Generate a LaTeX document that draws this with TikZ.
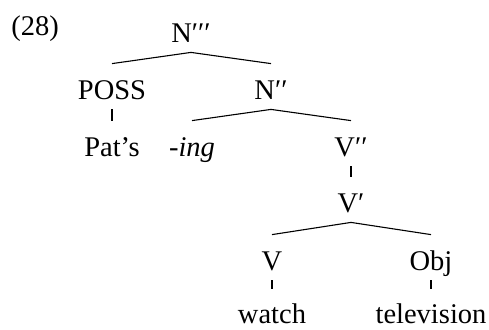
\documentclass[tikz,border=0pt]{standalone}
\usepackage{fontspec}
\setmainfont{Liberation Serif}
\usepackage{tikz}
\tikzset{
  treenode/.style={anchor=base, inner xsep=1pt, inner ysep=1.5pt,
    text height=16pt, text depth=3.5pt, font=\fontsize{14.25}{17}\selectfont},
  leafnode/.style={treenode, text depth=0pt, inner ysep=1pt},
  branch/.style={line width=0.55pt},
  tick/.style={line width=0.75pt}
}

\begin{document}
\begin{tikzpicture}[x=0.5pt, y=-0.5pt]
    \useasboundingbox (0,0) rectangle (489,329);
    \node[treenode, anchor=base west, inner xsep=0pt] (exnum) at (11,35) {(28)};
    \node[treenode] (nbarthree) at (191,42) {N′′′};
    \node[treenode] (poss) at (112,99) {POSS};
    \node[treenode] (nbartwo) at (271,99) {N′′};
    \node[treenode] (pats) at (112,156) {Pat’s};
    \node[treenode] (ing) at (192,156) {\itshape -ing};
    \node[treenode] (vbartwo) at (351,156) {V′′};
    \node[treenode] (vbarone) at (351,212) {V′};
    \node[treenode] (verb) at (272,270) {V};
    \node[treenode] (obj) at (431,270) {Obj};
    \node[leafnode] (watch) at (272,323) {watch};
    \node[leafnode] (tv) at (431,323) {television};
    \draw[branch] (poss.north) -- (nbarthree.south) -- (nbartwo.north);
    \draw[branch] (ing.north) -- (nbartwo.south) -- (vbartwo.north);
    \draw[branch] (verb.north) -- (vbarone.south) -- (obj.north);
    \draw[tick] (poss.south) -- (pats.north);
    \draw[tick] (vbartwo.south) -- (vbarone.north);
    \draw[tick] (verb.south) -- (watch.north);
    \draw[tick] (obj.south) -- (tv.north);
  \end{tikzpicture}
\end{document}
